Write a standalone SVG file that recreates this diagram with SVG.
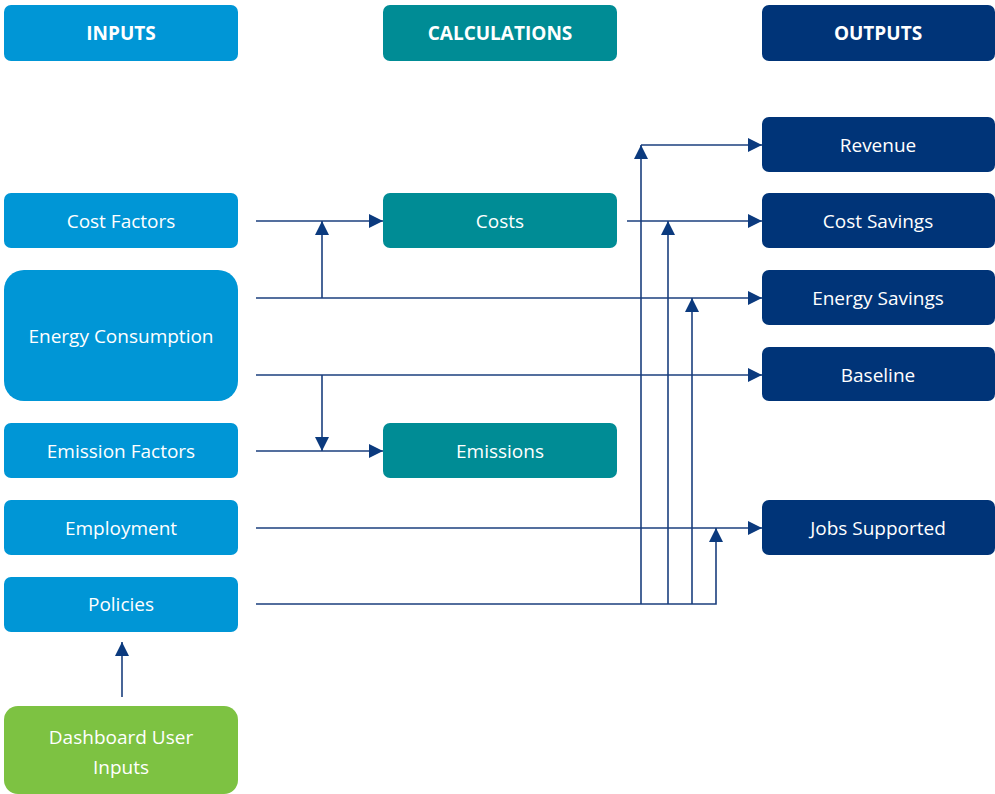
<svg xmlns="http://www.w3.org/2000/svg" width="995" height="794" viewBox="0 0 995 794">
<defs>
<style>
.in{fill:#0096D6}
.calc{fill:#008C95}
.out{fill:#003478}
.user{fill:#7DC242}
text{font-family:"Open Sans","Liberation Sans",sans-serif;font-size:19px;fill:#fff;text-anchor:middle;dominant-baseline:central}
.hd{font-weight:bold;font-size:19px}
.c{fill:none;stroke:#1B3F7E;stroke-width:1.6}
</style>
<marker id="ah" markerUnits="userSpaceOnUse" markerWidth="14" markerHeight="14" viewBox="0 0 14 14" refX="14" refY="7" orient="auto">
<path d="M0,0 L14,7 L0,14 Z" fill="#0B3A7E"/>
</marker>
</defs>
<rect width="995" height="794" fill="#fff"/>

<g id="hdr-inputs"><rect class="in" x="4" y="5" width="234" height="56" rx="7"/><text class="hd" x="121" y="33">INPUTS</text></g>
<g id="hdr-calc"><rect class="calc" x="383" y="5" width="234" height="56" rx="7"/><text class="hd" x="500" y="33">CALCULATIONS</text></g>
<g id="hdr-outputs"><rect class="out" x="762" y="5" width="233" height="56" rx="7"/><text class="hd" x="878" y="33">OUTPUTS</text></g>

<g id="connectors">
<path class="c" d="M256,221 H383" marker-end="url(#ah)"/>
<path class="c" d="M256,298 H762" marker-end="url(#ah)"/>
<path class="c" d="M322,298 V221" marker-end="url(#ah)"/>
<path class="c" d="M256,375 H762" marker-end="url(#ah)"/>
<path class="c" d="M322,375 V451" marker-end="url(#ah)"/>
<path class="c" d="M256,451 H383" marker-end="url(#ah)"/>
<path class="c" d="M256,528 H762" marker-end="url(#ah)"/>
<path class="c" d="M256,604 H716 V528" marker-end="url(#ah)"/>
<path class="c" d="M641,604 V145" marker-end="url(#ah)"/>
<path class="c" d="M641,145 H762" marker-end="url(#ah)"/>
<path class="c" d="M668,604 V221" marker-end="url(#ah)"/>
<path class="c" d="M692,604 V298" marker-end="url(#ah)"/>
<path class="c" d="M627,221 H762" marker-end="url(#ah)"/>
<path class="c" d="M122,697 V642" marker-end="url(#ah)"/>
</g>

<g id="cost-factors"><rect class="in" x="4" y="193" width="234" height="55" rx="7"/><text x="121" y="221">Cost Factors</text></g>
<g id="energy-consumption"><rect class="in" x="4" y="270" width="234" height="131" rx="20"/><text x="121" y="336">Energy Consumption</text></g>
<g id="emission-factors"><rect class="in" x="4" y="423" width="234" height="55" rx="7"/><text x="121" y="451">Emission Factors</text></g>
<g id="employment"><rect class="in" x="4" y="500" width="234" height="55" rx="7"/><text x="121" y="528">Employment</text></g>
<g id="policies"><rect class="in" x="4" y="577" width="234" height="55" rx="7"/><text x="121" y="604">Policies</text></g>
<g id="dashboard"><rect class="user" x="4" y="706" width="234" height="88" rx="14"/><text x="121" y="737">Dashboard User</text><text x="121" y="767">Inputs</text></g>

<g id="costs"><rect class="calc" x="383" y="193" width="234" height="55" rx="7"/><text x="500" y="221">Costs</text></g>
<g id="emissions"><rect class="calc" x="383" y="423" width="234" height="55" rx="7"/><text x="500" y="451">Emissions</text></g>

<g id="revenue"><rect class="out" x="762" y="117" width="233" height="55" rx="7"/><text x="878" y="145">Revenue</text></g>
<g id="cost-savings"><rect class="out" x="762" y="193" width="233" height="55" rx="7"/><text x="878" y="221">Cost Savings</text></g>
<g id="energy-savings"><rect class="out" x="762" y="270" width="233" height="55" rx="7"/><text x="878" y="298">Energy Savings</text></g>
<g id="baseline"><rect class="out" x="762" y="347" width="233" height="54" rx="7"/><text x="878" y="375">Baseline</text></g>
<g id="jobs-supported"><rect class="out" x="762" y="500" width="233" height="55" rx="7"/><text x="878" y="528">Jobs Supported</text></g>
</svg>
